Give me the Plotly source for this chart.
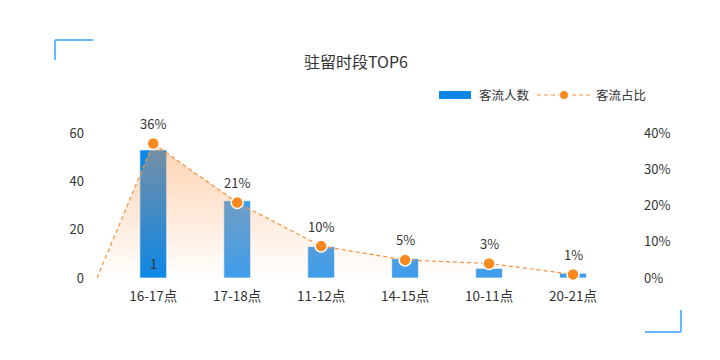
import plotly.graph_objects as go

categories = ["16-17点", "17-18点", "11-12点", "14-15点", "10-11点", "20-21点"]
visitors = [53, 32, 13, 8, 4, 2]
share_pct = [37.1, 20.8, 8.8, 5.0, 4.0, 1.0]
share_labels = ["36%", "21%", "10%", "5%", "3%", "1%"]
bar_labels = ["1", "", "", "", "", ""]
left_ticks = [0, 20, 40, 60]
right_ticks = [0, 10, 20, 30, 40]
right_tick_text = ["0%", "10%", "20%", "30%", "40%"]
legend_names = ["客流人数", "客流占比"]
line_start_x = -0.67   # leading zero point of the share line
line_start_val = 0

OFF = 8  # page body margin (figure starts at 8,8 in the window)
W, H = 720 - OFF, 360 - OFF
L, R, T, B = 97 - OFF, 105, 133 - OFF, 82

def px(x):
    return (x - OFF - L) / (W - L - R)

def py(y):
    return 1 - (y - OFF - T) / (H - T - B)

x_idx = list(range(len(categories)))
bar_colors = ["#0d87e6"] + ["#3f9eec"] * (len(categories) - 1)
ORANGE = "#f7891f"
BLUE_LINE = "#66b8ff"

fig = go.Figure()
fig.add_trace(go.Bar(
    x=x_idx, y=visitors, width=0.32, name=legend_names[0], showlegend=False,
    marker=dict(color=bar_colors, line=dict(color="rgba(255,255,255,0.7)", width=1)),
    yaxis="y", hoverinfo="skip",
))
fig.add_trace(go.Scatter(
    x=[line_start_x] + x_idx, y=[line_start_val] + share_pct,
    mode="lines", line=dict(color="#f7913d", width=1.2, dash="4px,3px"),
    fill="tozeroy",
    fillgradient=dict(type="vertical",
                      colorscale=[[0, "rgba(255,154,80,0)"], [1, "rgba(255,154,80,0.45)"]]),
    showlegend=False, hoverinfo="skip", yaxis="y2", cliponaxis=False,
))
fig.add_trace(go.Scatter(
    x=x_idx, y=share_pct, mode="markers", name=legend_names[1],
    marker=dict(color=ORANGE, size=12, line=dict(color="white", width=1.5)),
    yaxis="y2", cliponaxis=False, showlegend=False,
))

annotations = []
for i, (v, lab) in enumerate(zip(share_pct, share_labels)):
    annotations.append(dict(x=i, y=v, xref="x", yref="y2", text=lab, showarrow=False,
                            yshift=20, font=dict(size=13, color="#333")))
for i, lab in enumerate(bar_labels):
    if lab:
        annotations.append(dict(x=i, y=0, xref="x", yref="y", text=lab, showarrow=False,
                                yshift=15, font=dict(size=13, color="#333")))
# custom legend texts
annotations.append(dict(x=px(477), y=py(94), xref="paper", yref="paper", text=legend_names[0],
                        showarrow=False, xanchor="left", yanchor="middle",
                        font=dict(size=12.5, color="#333")))
annotations.append(dict(x=px(594), y=py(94), xref="paper", yref="paper", text=legend_names[1],
                        showarrow=False, xanchor="left", yanchor="middle",
                        font=dict(size=12.5, color="#333")))

shape_line = dict(color=BLUE_LINE, width=2)
shapes = [
    dict(type="line", xref="paper", yref="paper", x0=px(55), y0=py(40), x1=px(93), y1=py(40), line=shape_line),
    dict(type="line", xref="paper", yref="paper", x0=px(55), y0=py(40), x1=px(55), y1=py(60), line=shape_line),
    dict(type="line", xref="paper", yref="paper", x0=px(645), y0=py(332), x1=px(681), y1=py(332), line=shape_line),
    dict(type="line", xref="paper", yref="paper", x0=px(681), y0=py(310), x1=px(681), y1=py(332), line=shape_line),
    # legend symbols
    dict(type="rect", xref="paper", yref="paper", x0=px(439), y0=py(91), x1=px(471), y1=py(99),
         fillcolor="#0d87e6", line=dict(width=0)),
    dict(type="line", xref="paper", yref="paper", x0=px(537), y0=py(95), x1=px(590), y1=py(95),
         line=dict(color="#f7913d", width=1.2, dash="4px,3px")),
    dict(type="circle", xref="paper", yref="paper", x0=px(559.5), y0=py(90.5), x1=px(568.5), y1=py(99.5),
         fillcolor=ORANGE, line=dict(color="white", width=1)),
]

fig.update_layout(
    width=W, height=H, margin=dict(l=L, r=R, t=T, b=B),
    paper_bgcolor="white", plot_bgcolor="white",
    font=dict(family="Noto Sans CJK SC", size=13, color="#333"),
    title=dict(text="驻留时段TOP6", x=0.5, xref="paper", y=1 - (62 - OFF) / H, yanchor="middle",
               font=dict(size=16, color="#333")),
    xaxis=dict(range=[line_start_x, 5.5], tickmode="array", tickvals=x_idx, ticktext=categories,
               tickfont=dict(size=13.5), showgrid=False, zeroline=False, showline=False,
               ticks="", ticklabelstandoff=8),
    yaxis=dict(range=[0, 60], tickmode="array", tickvals=left_ticks, showgrid=False, zeroline=False,
               showline=False, ticks="", ticklabelstandoff=12),
    yaxis2=dict(range=[0, 40], tickmode="array", tickvals=right_ticks, ticktext=right_tick_text,
                overlaying="y", side="right", showgrid=False, zeroline=False, showline=False,
                ticks="", ticklabelstandoff=28),
    showlegend=False,
    annotations=annotations,
    shapes=shapes,
)

fig.write_html("out.html")
